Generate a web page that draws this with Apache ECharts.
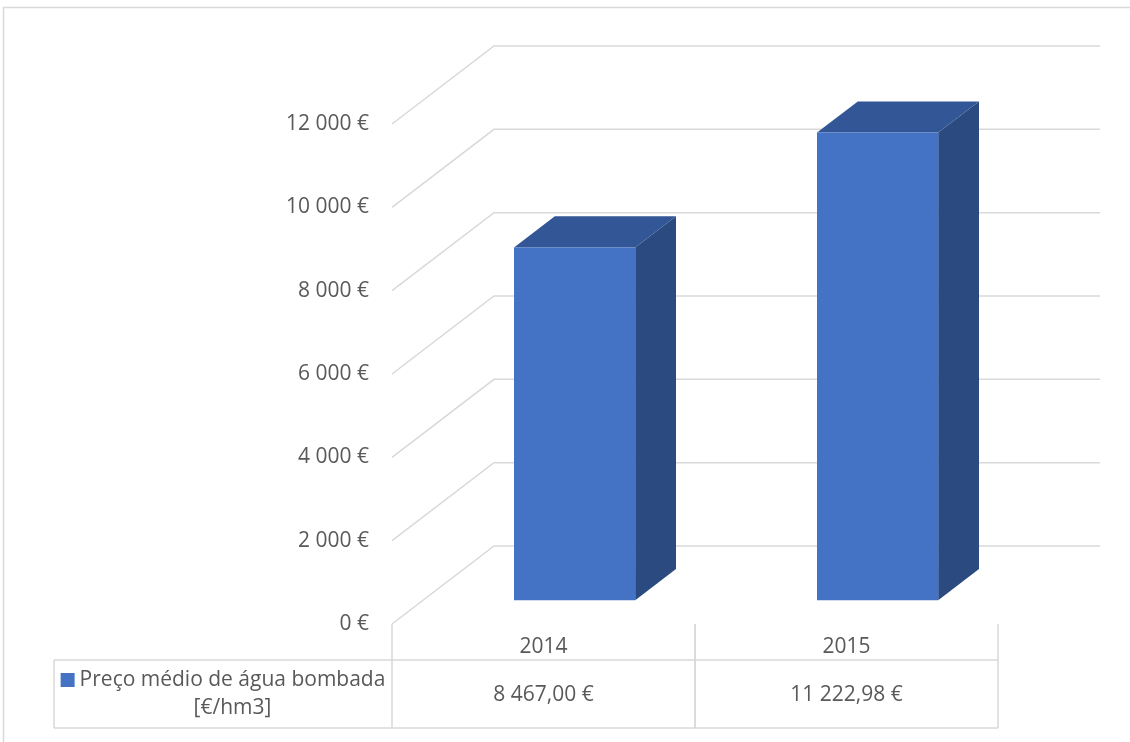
<!DOCTYPE html>
<html>
<head>
<meta charset="utf-8">
<script src="https://cdn.jsdelivr.net/npm/echarts@6/dist/echarts.min.js"></script>
<style>
  html, body { margin: 0; padding: 0; background: #ffffff; }
  #chart { width: 1130px; height: 742px; }
</style>
</head>
<body>
<div id="chart"></div>
<script>
// Average price of pumped water per year
const categories = ['2014', '2015'];
const prices = [8467.00, 11222.98];
const yTicks = [0, 2000, 4000, 6000, 8000, 10000, 12000];
const seriesLabelLines = ['Preço médio de água bombada', '[€/hm3]'];

// Perspective of the 3D box: full depth of the plot, in pixels
const DEPTH_X = 102;
const DEPTH_Y = -78;
// Bars sit in the middle of the depth
const BAR_FRONT = 0.305;
const BAR_DEPTH = 0.4;
const BAR_WIDTH = 0.4;

const FONT = '"Open Sans", "Noto Sans", sans-serif';
const FONT_SIZE = 21;
const TEXT_COLOR = '#595959';
const LINE_COLOR = '#D9D9D9';
const FRONT_COLOR = '#4472C4';
const TOP_COLOR = '#325696';
const SIDE_COLOR = '#2B4A80';

// Data table under the plot
const TABLE_HEADER_H = 36;
const TABLE_ROW_H = 68;
const LEGEND_CELL_LEFT = 54;

function groupThousands(s) {
  return s.replace(/\B(?=(\d{3})+(?!\d))/g, ' ');
}
function euroAxis(v) {
  return groupThousands(String(Math.round(v))) + ' €';
}
function euroTable(v) {
  const parts = v.toFixed(2).split('.');
  return groupThousands(parts[0]) + ',' + parts[1] + ' €';
}

function measure(text, size) {
  const c = document.createElement('canvas').getContext('2d');
  c.font = size + 'px ' + FONT;
  return c.measureText(text).width;
}

const chart = echarts.init(document.getElementById('chart'), null, { renderer: 'canvas' });

// Back wall and side wall gridlines at each tick value
function renderWalls(params, api) {
  const cs = params.coordSys;
  const p = api.coord([0, api.value(1)]);
  const y = p[1];
  const x0 = cs.x;
  const x1 = cs.x + cs.width;
  return {
    type: 'polyline',
    shape: {
      points: [
        [x0, y],
        [x0 + DEPTH_X, y + DEPTH_Y],
        [x1 + DEPTH_X, y + DEPTH_Y]
      ]
    },
    style: { stroke: LINE_COLOR, lineWidth: 1.5, fill: null },
    silent: true
  };
}

// 3D column: front face, top face and right side
function renderBox(params, api) {
  const i = api.value(0);
  const base = api.coord([i, 0]);
  const top = api.coord([i, api.value(1)]);
  const band = api.size([1, 0])[0];
  const w = band * BAR_WIDTH;
  const fx = DEPTH_X * BAR_FRONT, fy = DEPTH_Y * BAR_FRONT;
  const dx = DEPTH_X * BAR_DEPTH, dy = DEPTH_Y * BAR_DEPTH;
  const xl = base[0] - w / 2 + fx;
  const xr = xl + w;
  const yt = top[1] + fy;
  const yb = base[1] + fy;
  return {
    type: 'group',
    children: [
      {
        type: 'polygon',
        shape: { points: [[xr, yt], [xr + dx, yt + dy], [xr + dx, yb + dy], [xr, yb]] },
        style: { fill: SIDE_COLOR }
      },
      {
        type: 'polygon',
        shape: { points: [[xl, yt], [xl + dx, yt + dy], [xr + dx, yt + dy], [xr, yt]] },
        style: { fill: TOP_COLOR }
      },
      {
        type: 'rect',
        shape: { x: xl, y: yt, width: w, height: yb - yt },
        style: { fill: FRONT_COLOR }
      }
    ]
  };
}

// Data table: one column per category plus the series cell on the left
function renderTable(params, api) {
  const cs = params.coordSys;
  const i = api.value(0);
  const v = api.value(1);
  const c = api.coord([i, 0]);
  const band = api.size([1, 0])[0];
  const left = c[0] - band / 2;
  const right = c[0] + band / 2;
  const yTop = cs.y + cs.height;
  const yMid = yTop + TABLE_HEADER_H;
  const yBot = yMid + TABLE_ROW_H;
  const lineStyle = { stroke: LINE_COLOR, lineWidth: 1.5 };
  const children = [
    { type: 'line', shape: { x1: left, y1: yTop, x2: left, y2: yBot }, style: lineStyle },
    { type: 'line', shape: { x1: right, y1: yTop, x2: right, y2: yBot }, style: lineStyle },
    { type: 'line', shape: { x1: left, y1: yMid, x2: right, y2: yMid }, style: lineStyle },
    { type: 'line', shape: { x1: left, y1: yBot, x2: right, y2: yBot }, style: lineStyle },
    {
      type: 'text',
      style: {
        text: euroTable(v), x: c[0], y: yMid + TABLE_ROW_H / 2 + 1,
        align: 'center', verticalAlign: 'middle',
        fontSize: FONT_SIZE, fontFamily: FONT, fill: TEXT_COLOR
      }
    }
  ];
  if (params.dataIndex === 0) {
    const l = LEGEND_CELL_LEFT;
    children.push(
      { type: 'line', shape: { x1: l, y1: yMid, x2: left, y2: yMid }, style: lineStyle },
      { type: 'line', shape: { x1: l, y1: yBot, x2: left, y2: yBot }, style: lineStyle },
      { type: 'line', shape: { x1: l, y1: yMid, x2: l, y2: yBot }, style: lineStyle }
    );
    const textW = measure(seriesLabelLines[0], FONT_SIZE);
    const markerSize = 14, gap = 5;
    const total = markerSize + gap + textW;
    const startX = (l + left) / 2 - total / 2;
    const textCenter = startX + markerSize + gap + textW / 2;
    const line1Y = yMid + 20;
    const line2Y = yMid + 48;
    children.push(
      {
        type: 'rect',
        shape: { x: startX, y: line1Y - 7, width: markerSize, height: markerSize },
        style: { fill: FRONT_COLOR }
      },
      {
        type: 'text',
        style: {
          text: seriesLabelLines[0], x: textCenter, y: line1Y,
          align: 'center', verticalAlign: 'middle',
          fontSize: FONT_SIZE, fontFamily: FONT, fill: TEXT_COLOR
        }
      },
      {
        type: 'text',
        style: {
          text: seriesLabelLines[1], x: textCenter, y: line2Y,
          align: 'center', verticalAlign: 'middle',
          fontSize: FONT_SIZE, fontFamily: FONT, fill: TEXT_COLOR
        }
      }
    );
  }
  return { type: 'group', children: children };
}

const option = {
  animation: false,
  backgroundColor: '#ffffff',
  grid: { left: 392, right: 132, top: 124, bottom: 118, containLabel: false },
  xAxis: {
    type: 'category',
    data: categories,
    axisLine: { show: false },
    axisTick: { show: false },
    splitLine: { show: false },
    axisLabel: { margin: 13, fontSize: FONT_SIZE, fontFamily: FONT, color: TEXT_COLOR }
  },
  yAxis: {
    type: 'value',
    min: 0,
    max: yTicks[yTicks.length - 1],
    interval: yTicks[1] - yTicks[0],
    axisLine: { show: false },
    axisTick: { show: false },
    splitLine: { show: false },
    axisLabel: {
      margin: 23, fontSize: FONT_SIZE, fontFamily: FONT, color: TEXT_COLOR,
      padding: [6, 0, 0, 0],
      formatter: euroAxis
    }
  },
  graphic: [
    {
      type: 'rect',
      shape: { x: 3.5, y: 7.5, width: 1200, height: 800 },
      style: { fill: null, stroke: LINE_COLOR, lineWidth: 1.5 },
      silent: true,
      z: -10
    }
  ],
  series: [
    {
      type: 'custom',
      name: 'walls',
      renderItem: renderWalls,
      data: yTicks.map(function (t) { return [0, t]; }),
      z: 1,
      silent: true,
      clip: false
    },
    {
      type: 'custom',
      name: seriesLabelLines.join(' '),
      renderItem: renderBox,
      data: prices.map(function (v, i) { return [i, v]; }),
      z: 2,
      clip: false
    },
    {
      type: 'custom',
      name: 'table',
      renderItem: renderTable,
      data: prices.map(function (v, i) { return [i, v]; }),
      z: 3,
      silent: true,
      clip: false
    }
  ]
};

chart.setOption(option);
</script>
</body>
</html>
